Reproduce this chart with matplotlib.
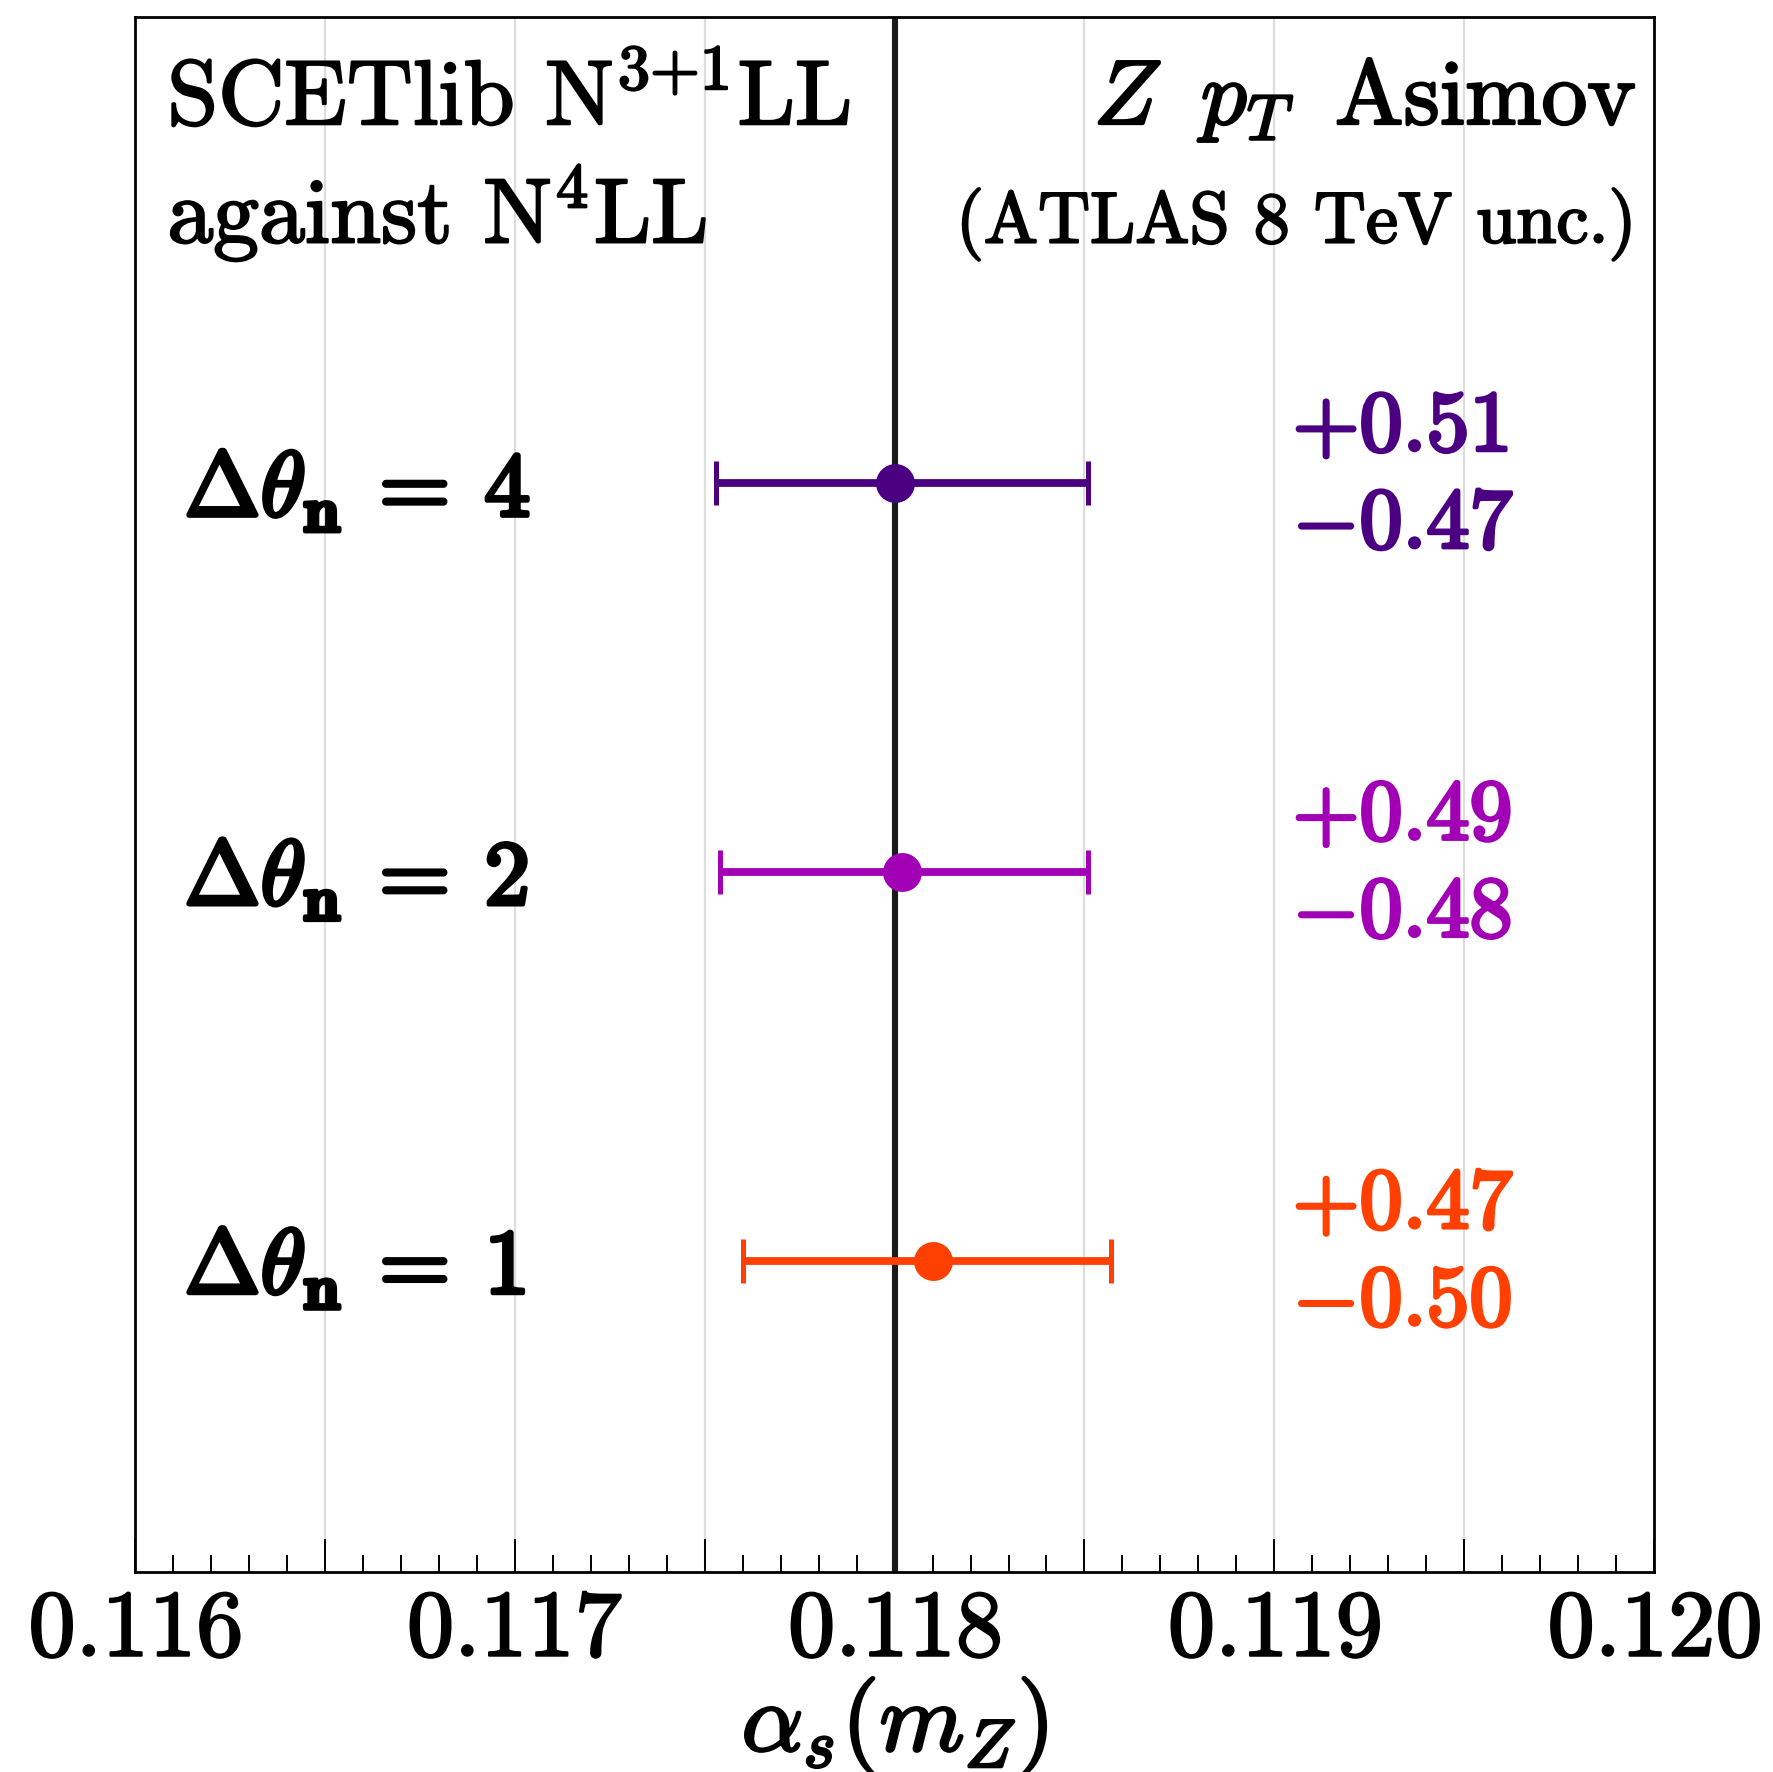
import matplotlib
matplotlib.use("Agg")
from matplotlib import pyplot as plt
from matplotlib import patheffects as pe
from matplotlib.ticker import MultipleLocator, FuncFormatter

plt.rcParams['mathtext.fontset'] = 'cm'
plt.rcParams['font.family'] = 'serif'
plt.rcParams['font.serif'] = ['cmr10']
plt.rcParams['axes.formatter.use_mathtext'] = True

# alpha_s fits for each theta_n variation (top to bottom)
labels = [r'$\mathbf{\Delta}\theta_\mathbf{n}\:\mathbf{=}\:\mathbf{4}$',
          r'$\mathbf{\Delta}\theta_\mathbf{n}\:\mathbf{=}\:\mathbf{2}$',
          r'$\mathbf{\Delta}\theta_\mathbf{n}\:\mathbf{=}\:\mathbf{1}$']
centers = [0.11800, 0.11802, 0.11810]
err_up = [0.51, 0.49, 0.47]     # in units of 1e-3
err_down = [0.47, 0.48, 0.50]   # in units of 1e-3
colors = ['#4b0082', '#a100b4', '#ff4000']
y_pos = [2, 1, 0]
ref_value = 0.118


def heavy(col='k', lw=0.7):
    return [pe.withStroke(linewidth=lw, foreground=col)]


def fmt_tick(x, pos):
    if abs(round(x * 1000) - x * 1000) < 1e-6:
        return r'$%.3f$' % x
    return ''


fig = plt.figure(figsize=(8.865, 8.86), dpi=200)
ax = fig.add_axes([0.0761, 0.1130, 0.8569, 0.8774])

ax.set_xlim(0.116, 0.120)
ax.set_ylim(-0.8, 3.2)

ax.xaxis.set_major_locator(MultipleLocator(0.0005))
ax.xaxis.set_minor_locator(MultipleLocator(0.0001))
ax.xaxis.set_major_formatter(FuncFormatter(fmt_tick))
ax.tick_params(axis='x', which='major', direction='in', length=12, width=0.7,
               labelsize=34, pad=7)
ax.tick_params(axis='x', which='minor', direction='in', length=6, width=0.7)
ax.tick_params(axis='y', left=False, labelleft=False)
for t in ax.get_xticklabels():
    t.set_path_effects(heavy(lw=0.8))
ax.grid(axis='x', which='major', color='#dddddd', lw=0.8, zorder=0)
ax.set_axisbelow(True)
for sp in ax.spines.values():
    sp.set_linewidth(1.0)

ax.axvline(ref_value, color='#1a1a1a', lw=2.2, zorder=2)

for lab, c, up, dn, col, y in zip(labels, centers, err_up, err_down, colors, y_pos):
    ax.errorbar([c], [y], xerr=[[dn * 1e-3], [up * 1e-3]], fmt='o', color=col,
                ms=13, lw=2.8, capsize=8, capthick=1.8, zorder=3)
    ax.text(0.0325, y - 0.02, lab, transform=ax.get_yaxis_transform(), fontsize=33,
            va='center', ha='left', color='k', path_effects=heavy(lw=1.6))
    ax.text(0.762, y + 0.14, r'$+%.2f$' % up, transform=ax.get_yaxis_transform(),
            fontsize=31, va='center', ha='left', color=col, path_effects=heavy(col, 1.3))
    ax.text(0.762, y - 0.11, r'$-%.2f$' % dn, transform=ax.get_yaxis_transform(),
            fontsize=31, va='center', ha='left', color=col, path_effects=heavy(col, 1.3))

ax.text(0.0213, 0.931, r'SCETlib N$^{3{+}1}$LL', transform=ax.transAxes,
        fontsize=33, ha='left', va='baseline', path_effects=heavy(lw=0.8))
ax.text(0.0213, 0.855, r'against N$^{4}$LL', transform=ax.transAxes,
        fontsize=33, ha='left', va='baseline', path_effects=heavy(lw=0.8))
ax.text(0.988, 0.931, r'$Z\;\;p_T\;\;$Asimov', transform=ax.transAxes,
        fontsize=33, ha='right', va='baseline', path_effects=heavy(lw=0.9))
ax.text(0.988, 0.855, r'(ATLAS 8 TeV unc.)', transform=ax.transAxes,
        fontsize=26, ha='right', va='baseline', path_effects=heavy(lw=0.8))

ax.set_xlabel(r'$\alpha_s(m_Z)$', fontsize=35, path_effects=heavy(lw=1.0))
ax.xaxis.set_label_coords(0.5, -0.066)

fig.savefig('out.png', dpi=200)
